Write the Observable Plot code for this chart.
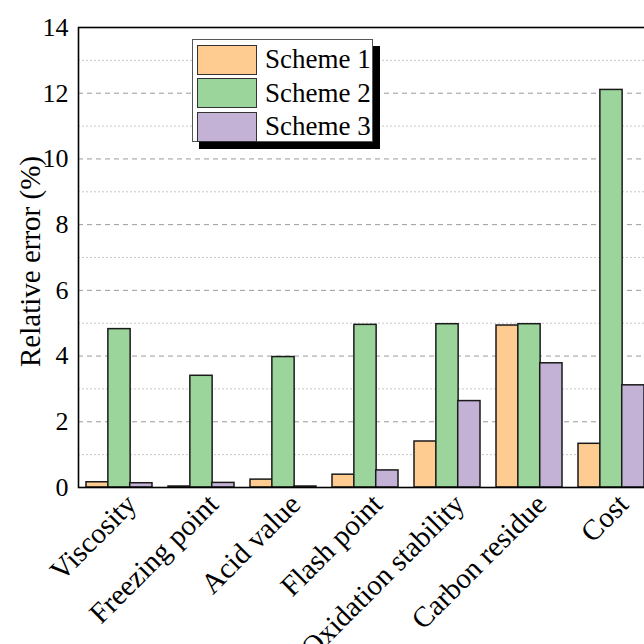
<!DOCTYPE html>
<html>
<head>
<meta charset="utf-8">
<script src="https://cdn.jsdelivr.net/npm/d3@7"></script>
<script src="https://cdn.jsdelivr.net/npm/@observablehq/plot@0.6"></script>
<style>
  html, body { margin: 0; padding: 0; background: #fff; }
  #wrap { position: relative; width: 644px; height: 644px; overflow: hidden; font-family: "Liberation Serif", "Times New Roman", serif; }
  #chart svg { max-width: none !important; display: block; }
  #legend { position: absolute; left: 192px; top: 39px; width: 181px; height: 103px; box-sizing: border-box;
            border: 1px solid #555; background: #fff; box-shadow: 7px 7px 0 #000; padding: 3px 0 0 4px; }
  .row { display: flex; align-items: center; height: 33.5px; }
  .sw { width: 60px; height: 30px; box-sizing: border-box; border: 1.5px solid #333; margin-right: 8px; }
  .lab { font-size: 27px; color: #000; line-height: 1; white-space: nowrap; }
</style>
</head>
<body>
<div id="wrap"><div id="chart"></div><div id="legend"></div></div>
<script>
const categories = ["Viscosity", "Freezing point", "Acid value", "Flash point", "Oxidation stability", "Carbon residue", "Cost"];
const schemes = ["Scheme 1", "Scheme 2", "Scheme 3"];
const scheme1 = [0.16, 0.03, 0.24, 0.39, 1.40, 4.93, 1.33];
const scheme2 = [4.82, 3.40, 3.97, 4.95, 4.97, 4.97, 12.10];
const scheme3 = [0.13, 0.14, 0.03, 0.52, 2.63, 3.78, 3.11];
const colors = ["#FECB91", "#9BD59B", "#C4B2D6"];
const yMajor = [0, 2, 4, 6, 8, 10, 12, 14];
const yMinor = [1, 3, 5, 7, 9, 11, 13];
const yLabel = "Relative error (%)";

const series = [scheme1, scheme2, scheme3];
const rows = [];
categories.forEach((c, i) => series.forEach((s, j) => rows.push({category: c, scheme: schemes[j], value: s[i]})));

const W = 660, mL = 78, mR = 8, mT = 27, mB = 157, H = 644;
const pIn = 0.2, pOut = 0.1;
const step = (W - mL - mR) / (categories.length - pIn + 2 * pOut);
const third = step * (1 - pIn) / schemes.length;

const bars = schemes.map((s, j) => Plot.barY(rows.filter(d => d.scheme === s), {
  x: "category", y: "value", fill: "scheme",
  stroke: "#1a1a1a", strokeWidth: 1.5,
  insetLeft: j * third, insetRight: (schemes.length - 1 - j) * third
}));

const chart = Plot.plot({
  width: W, height: H,
  marginLeft: mL, marginRight: mR, marginTop: mT, marginBottom: mB,
  style: {fontFamily: "'Liberation Serif', 'Times New Roman', serif", color: "#000", background: "#fff", maxWidth: "none"},
  x: {type: "band", domain: categories, paddingInner: pIn, paddingOuter: pOut},
  y: {domain: [0, 14]},
  color: {domain: schemes, range: colors},
  marks: [
    Plot.ruleY(yMinor, {stroke: "#c8c8c8", strokeDasharray: "2,2", strokeWidth: 1}),
    Plot.ruleY(yMajor.filter(v => v > 0 && v < 14), {stroke: "#9a9a9a", strokeDasharray: "5,4", strokeWidth: 1}),
    ...bars,
    Plot.frame({stroke: "#000", strokeWidth: 1.6}),
    Plot.axisY({ticks: yMajor, tickSize: 0, tickPadding: 10, fontSize: 26, label: null}),
    Plot.axisX({tickRotate: -45, tickSize: 0, tickPadding: 6, dx: 12, dy: 6, fontSize: 29, label: null}),
    Plot.text([yLabel], {frameAnchor: "left", textAnchor: "middle", rotate: -90, dx: -48, dy: 4, fontSize: 29, fill: "#000"})
  ]
});
document.getElementById("chart").appendChild(chart);

const legend = document.getElementById("legend");
schemes.forEach((s, j) => {
  const r = document.createElement("div"); r.className = "row";
  const sw = document.createElement("div"); sw.className = "sw"; sw.style.background = colors[j];
  const t = document.createElement("span"); t.className = "lab"; t.textContent = s;
  r.appendChild(sw); r.appendChild(t); legend.appendChild(r);
});
</script>
</body>
</html>
